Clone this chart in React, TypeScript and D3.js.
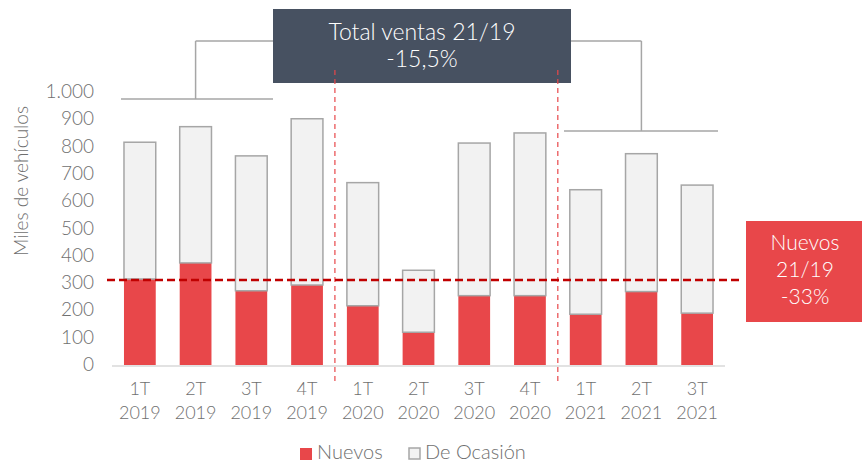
import React from 'react'
import * as d3 from 'd3'

const W = 862
const H = 463

const quarters = ['1T', '2T', '3T', '4T', '1T', '2T', '3T', '4T', '1T', '2T', '3T']
const years = ['2019', '2019', '2019', '2019', '2020', '2020', '2020', '2020', '2021', '2021', '2021']
const nuevos = [315, 374, 272, 293, 217, 120, 254, 254, 186, 269, 190]
const ocasion = [501, 499, 494, 609, 451, 227, 559, 596, 456, 505, 469]
const yTicks = [0, 100, 200, 300, 400, 500, 600, 700, 800, 900, 1000]
const nuevosRef = 311

const RED = '#e8474a'
const GRAY = '#6f6f6f'
const FONT = 'Lato, "Open Sans", sans-serif'

const fmt = (v: number) => (v >= 1000 ? d3.format(',')(v).replace(',', '.') : String(v))

const App = () => {
  const keys = quarters.map((_, i) => String(i))
  const x = d3.scaleBand().domain(keys).range([112, 725]).paddingInner(0.43).paddingOuter(0.215)
  const y = d3.scaleLinear().domain([0, 1000]).range([365, 92])
  const cx = (k: string) => x(k)! + x.bandwidth() / 2

  const data = keys.map((k, i) => ({ key: k, nuevos: nuevos[i], ocasion: ocasion[i] }))
  const stack = d3.stack<any>().keys(['nuevos', 'ocasion'])(data)

  // separators between years
  const sep1 = (x('3')! + x.bandwidth() + x('4')!) / 2
  const sep2 = (x('7')! + x.bandwidth() + x('8')!) / 2

  const leftV = cx('1')
  const rightV = cx('9')

  return (
    <svg width={W} height={H} style={{ display: 'block', position: 'absolute', left: 0, top: 0 }} fontFamily={FONT} fontWeight={300}>
      <rect width={W} height={H} fill="#fff" />

      {/* brackets */}
      <g stroke="#a6a6a6" strokeWidth={1.5} fill="none">
        <line x1={121} x2={273} y1={99} y2={99} />
        <line x1={leftV} x2={leftV} y1={99} y2={41} />
        <line x1={leftV} x2={273} y1={41} y2={41} />
        <line x1={571} x2={rightV} y1={41} y2={41} />
        <line x1={rightV} x2={rightV} y1={41} y2={131} />
        <line x1={564} x2={718} y1={131} y2={131} />
      </g>

      {/* title box */}
      <rect x={273} y={9} width={298} height={74} fill="#475161" />
      <text x={422} y={40} textAnchor="middle" fill="#fff" fontSize={23}>Total ventas 21/19</text>
      <text x={422} y={67} textAnchor="middle" fill="#fff" fontSize={23}>-15,5%</text>

      {/* y axis */}
      {yTicks.map(t => (
        <text key={t} x={94} y={y(t) + 6} textAnchor="end" fill={GRAY} fontSize={19}>{fmt(t)}</text>
      ))}
      <text transform={`translate(28,181) rotate(-90)`} textAnchor="middle" fill={GRAY} fontSize={19}>Miles de vehículos</text>

      {/* bars */}
      {stack[0].map((d: any, i: number) => (
        <rect key={'n' + i} x={x(keys[i])!} y={y(d[1])} width={x.bandwidth()} height={y(d[0]) - y(d[1])} fill={RED} />
      ))}
      {stack[1].map((d: any, i: number) => (
        <rect key={'o' + i} x={x(keys[i])!} y={y(d[1])} width={x.bandwidth()} height={y(d[0]) - y(d[1])} fill="#f2f2f2" stroke="#a6a6a6" strokeWidth={1.5} />
      ))}

      {/* axis line */}
      <line x1={112} x2={725} y1={366} y2={366} stroke="#d9d9d9" strokeWidth={1.5} />

      {/* x labels */}
      {keys.map((k, i) => (
        <g key={'l' + k} fill={GRAY} fontSize={18} textAnchor="middle">
          <text x={cx(k)} y={395}>{quarters[i]}</text>
          <text x={cx(k)} y={419}>{years[i]}</text>
        </g>
      ))}

      {/* vertical separators */}
      {[sep1, sep2].map((sx, i) => (
        <line key={'s' + i} x1={sx} x2={sx} y1={70} y2={385} stroke="#e8474a" strokeWidth={1.2} strokeDasharray="5 4" />
      ))}

      {/* reference line */}
      <line x1={107} x2={740} y1={y(nuevosRef)} y2={y(nuevosRef)} stroke="#c00000" strokeWidth={2.5} strokeDasharray="8 4" />

      {/* right annotation */}
      <rect x={746} y={221} width={116} height={101} fill={RED} />
      <g fill="#fff" fontSize={21} textAnchor="middle">
        <text x={805} y={250}>Nuevos</text>
        <text x={805} y={277}>21/19</text>
        <text x={805} y={304}>-33%</text>
      </g>

      {/* legend */}
      <rect x={300} y={448} width={12} height={12} fill={RED} />
      <text x={317} y={459} fill={GRAY} fontSize={20}>Nuevos</text>
      <rect x={409} y={448} width={11} height={11} fill="#f2f2f2" stroke="#a6a6a6" strokeWidth={1.5} />
      <text x={425} y={459} fill={GRAY} fontSize={20}>De Ocasión</text>
    </svg>
  )
}

export default App
